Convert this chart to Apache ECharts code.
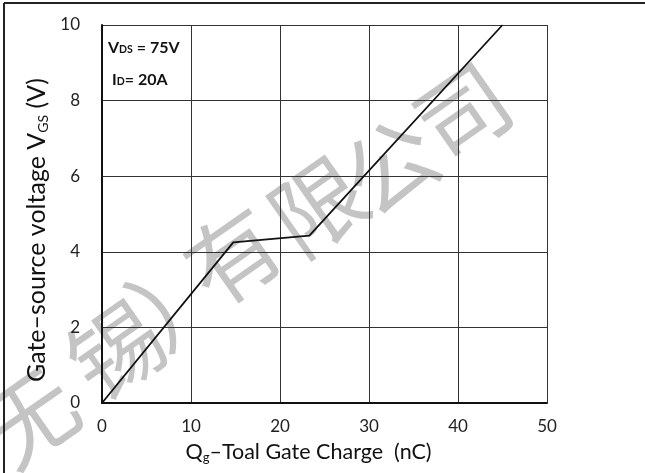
<!DOCTYPE html>
<html>
<head>
<meta charset="utf-8">
<script src="https://cdn.jsdelivr.net/npm/echarts@6/dist/echarts.min.js"></script>
<style>
html,body{margin:0;padding:0;background:#fff;}
#chart{width:645px;height:473px;}
</style>
</head>
<body>
<div id="chart"></div>
<script>
// Data
var chargeNC = [0, 14.75, 23.3, 45];       // Qg (nC)
var vgsVolts = [0, 4.25, 4.43, 10];         // VGS (V)
var xTicks = [0, 10, 20, 30, 40, 50];
var yTicks = [0, 2, 4, 6, 8, 10];
var conditionVds = '75V';
var conditionId = '20A';
var watermarkChars = ['无', '锡', '）', '有', '限', '公', '司'];

var points = chargeNC.map(function (q, i) { return [q, vgsVolts[i]]; });

// decorative watermark placement (pixel centers of each glyph)
var wmX = [30, 116, 180, 233, 318, 390, 463];
var wmY = [417, 350, 297, 256, 206, 166, 112];

var FONT = 'Lato';
var graphics = watermarkChars.map(function (c, i) {
  return {
    type: 'text', z: -10, x: wmX[i], y: wmY[i], rotation: 0.61,
    style: { text: c, fill: '#c4c4c4', font: '92px "Noto Sans CJK SC"', align: 'center', verticalAlign: 'middle' }
  };
});
graphics.push(
  { type: 'line', z: 10, shape: { x1: 4, y1: 3, x2: 645, y2: 3 }, style: { stroke: '#222', lineWidth: 2 } },
  { type: 'line', z: 10, shape: { x1: 4, y1: 3, x2: 4, y2: 473 }, style: { stroke: '#222', lineWidth: 2 } },
  {
    type: 'text', z: 10, x: 37, y: 230, rotation: Math.PI / 2,
    style: {
      text: '{a|Gate–source voltage V}{s|GS}{a| (V)}',
      align: 'center', verticalAlign: 'middle',
      rich: {
        a: { fontFamily: FONT, fontSize: 25, fill: '#111' },
        s: { fontFamily: FONT, fontSize: 14, fill: '#111', padding: [12, 0, 0, 0] }
      }
    }
  },
  {
    type: 'text', z: 10, x: 108, y: 48,
    style: {
      text: '{v|V}{s|DS}{v| = ' + conditionVds + '}',
      verticalAlign: 'middle',
      rich: {
        v: { fontFamily: FONT, fontWeight: 'bold', fontSize: 16, fill: '#111' },
        s: { fontFamily: FONT, fontWeight: 'bold', fontSize: 10.5, fill: '#111', padding: [4, 0, 0, 0] }
      }
    }
  },
  {
    type: 'text', z: 10, x: 112, y: 80,
    style: {
      text: '{v|I}{s|D}{v|= ' + conditionId + '}',
      verticalAlign: 'middle',
      rich: {
        v: { fontFamily: FONT, fontWeight: 'bold', fontSize: 16, fill: '#111' },
        s: { fontFamily: FONT, fontWeight: 'bold', fontSize: 10.5, fill: '#111', padding: [4, 0, 0, 0] }
      }
    }
  }
);

var chart = echarts.init(document.getElementById('chart'));
chart.setOption({
  animation: false,
  backgroundColor: '#ffffff',
  grid: { left: 102, right: 98, top: 25, bottom: 70, show: false },
  xAxis: {
    type: 'value', min: xTicks[0], max: xTicks[xTicks.length - 1], interval: 10,
    axisLine: { show: true, onZero: false, lineStyle: { color: '#111', width: 2 } },
    axisTick: { show: false },
    splitLine: { show: true, lineStyle: { color: '#333', width: 1 } },
    axisLabel: { color: '#222', fontFamily: FONT, fontSize: 17, margin: 15 },
    name: '{a|Q}{s|g}{a|–Toal Gate Charge  (nC)}',
    nameLocation: 'middle', nameGap: 38,
    nameTextStyle: {
      padding: [0, 32, 0, 0],
      rich: {
        a: { fontFamily: FONT, fontSize: 21.5, color: '#111' },
        s: { fontFamily: FONT, fontSize: 13, color: '#111', verticalAlign: 'bottom', padding: [10, 0, 0, 0] }
      }
    }
  },
  yAxis: {
    type: 'value', min: yTicks[0], max: yTicks[yTicks.length - 1], interval: 2,
    axisLine: { show: true, onZero: false, lineStyle: { color: '#111', width: 2 } },
    axisTick: { show: false },
    splitLine: { show: true, lineStyle: { color: '#333', width: 1 } },
    axisLabel: { color: '#222', fontFamily: FONT, fontSize: 17, margin: 22 }
  },
  graphic: graphics,
  series: [{
    type: 'line', data: points, symbol: 'none', z: 5,
    lineStyle: { color: '#111', width: 1.8 }
  }]
});
</script>
</body>
</html>
